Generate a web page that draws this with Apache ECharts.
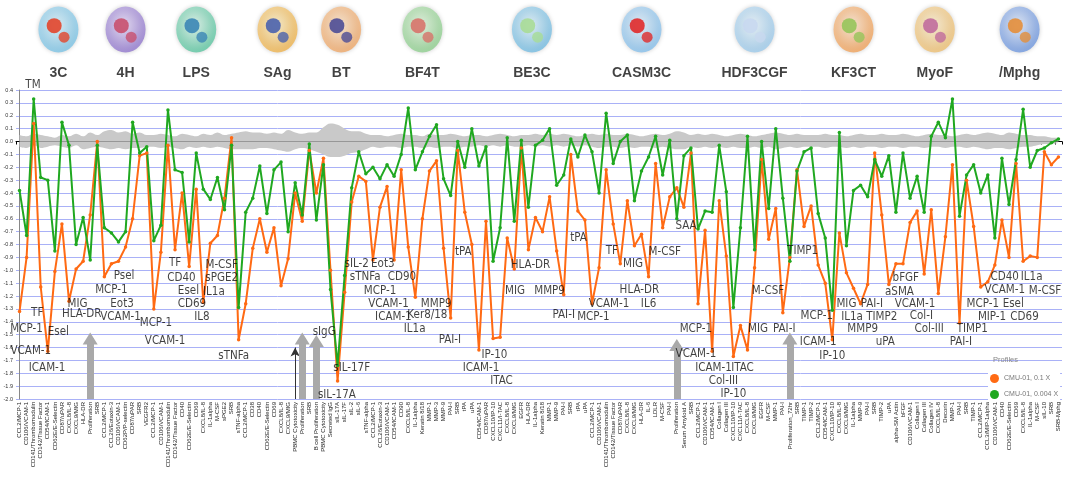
<!DOCTYPE html>
<html><head><meta charset="utf-8">
<script src="https://cdn.jsdelivr.net/npm/echarts@6/dist/echarts.min.js"></script>
<style>html,body{margin:0;padding:0;background:#fff}#c{width:1065px;height:500px}</style>
</head><body><div id="c"></div>
<script>
const systems = ['3C','4H','LPS','SAg','BT','BF4T','BE3C','CASM3C','HDF3CGF','KF3CT','MyoF','/Mphg'];
const systemSizes = [12,7,13,10,8,15,16,15,17,11,12,12];

const categories = [
 'CCL2/MCP-1','CD106/VCAM-1','CD141/Thrombomodulin','CD142/Tissue Factor','CD54/ICAM-1','CD62E/E-Selectin','CD87/uPAR','CXCL8/IL-8','CXCL9/MIG','HLA-DR','Proliferation','SRB',
 'CCL2/MCP-1','CCL26/Eotaxin-3','CD106/VCAM-1','CD62P/P-selectin','CD87/uPAR','SRB','VEGFR2',
 'CCL2/MCP-1','CD106/VCAM-1','CD141/Thrombomodulin','CD142/Tissue Factor','CD40','CD62E/E-Selectin','CD69','CXCL8/IL-8','IL-1alpha','M-CSF','sPGE2','SRB','sTNF-alpha',
 'CCL2/MCP-1','CD38','CD40','CD62E/E-Selectin','CD69','CXCL8/IL-8','CXCL9/MIG','PBMC Cytotoxicity','Proliferation','SRB',
 'B cell Proliferation','PBMC Cytotoxicity','Secreted IgG','sIL-17A','sIL-17F','sIL-2','sIL-6','sTNF-alpha',
 'CCL2/MCP-1','CCL26/Eotaxin-3','CD106/VCAM-1','CD54/ICAM-1','CD90','CXCL8/IL-8','IL-1alpha','Keratin 8/18','MMP-1','MMP-3','MMP-9','PAI-I','SRB','tPA','uPA',
 'CD54/ICAM-1','CD87/uPAR','CXCL10/IP-10','CXCL11/I-TAC','CXCL8/IL-8','CXCL9/MIG','EGFR','HLA-DR','IL-1alpha','Keratin 8/18','MMP-1','MMP-9','PAI-I','SRB','tPA','uPA',
 'CCL2/MCP-1','CD106/VCAM-1','CD141/Thrombomodulin','CD142/Tissue Factor','CD87/uPAR','CXCL8/IL-8','CXCL9/MIG','HLA-DR','IL-6','LDLR','M-CSF','PAI-I','Proliferation','Serum Amyloid A','SRB',
 'CCL2/MCP-1','CD106/VCAM-1','CD54/ICAM-1','Collagen I','Collagen III','CXCL10/IP-10','CXCL11/I-TAC','CXCL8/IL-8','CXCL9/MIG','EGFR','M-CSF','MMP-1','PAI-I','Proliferation_72hr','SRB','TIMP-1','TIMP-2',
 'CCL2/MCP-1','CD54/ICAM-1','CXCL10/IP-10','CXCL8/IL-8','CXCL9/MIG','IL-1alpha','MMP-9','PAI-I','SRB','TIMP-2','uPA',
 'alpha-SM Actin','bFGF','CD106/VCAM-1','Collagen I','Collagen III','Collagen IV','CXCL8/IL-8','Decorin','MMP-1','PAI-I','SRB','TIMP-1',
 'CCL2/MCP-1','CCL3/MIP-1alpha','CD106/VCAM-1','CD40','CD62E/E-Selectin','CD69','CXCL8/IL-8','IL-1alpha','M-CSF','sIL-10','SRB','SRB-Mphg'
];

// CMU-01, 0.1 X
const orangeValues = [
 -1.32,-0.90,0.14,-1.13,-1.63,-1.01,-0.64,-1.24,-0.99,-0.93,-0.57,0.00,
 -1.05,-0.95,-0.93,-0.82,-0.60,-0.11,-0.09,
 -1.30,-0.86,-0.03,-0.84,-0.40,-0.97,-0.37,-1.25,-0.79,-0.73,-0.44,0.03,-1.54,
 -1.26,-0.83,-0.60,-0.86,-0.67,-1.12,-0.91,-0.40,-0.62,-0.07,
 -0.40,-0.13,-1.00,-1.86,-1.17,-0.47,-0.27,-0.31,
 -0.92,-0.51,-0.35,-0.92,-0.22,-0.82,-1.21,-0.60,-0.23,-0.15,-0.83,-1.37,-0.07,-0.55,-0.80,
 -1.62,-0.62,-1.53,-1.52,-0.75,-0.99,-0.05,-0.84,-0.59,-0.70,-0.43,-0.85,-1.19,-0.10,-0.54,-0.61,
 -1.26,-0.98,-0.22,-0.64,-0.95,-0.46,-0.81,-0.72,-1.05,-0.17,-0.67,-0.43,-0.36,-0.51,-0.09,
 -1.26,-0.69,-1.63,-0.46,-0.89,-1.67,-1.43,-1.62,-0.98,-0.14,-0.76,-0.52,-1.33,-0.90,-0.22,-0.66,-0.50,
 -0.96,-1.10,-1.54,-0.71,-1.02,-1.14,-1.26,-1.11,-0.09,-0.57,-1.11,
 -0.95,-0.95,-0.63,-0.54,-1.03,-0.53,-1.18,-0.74,-0.18,-1.41,-0.30,-0.66,
 -1.13,-1.09,-0.96,-0.61,-0.90,-0.17,-0.93,-0.89,-0.90,-0.08,-0.18,-0.12
];

// CMU-01, 0.004 X
const greenValues = [
 -0.38,-0.73,0.33,-0.28,-0.30,-0.85,0.15,-0.03,-0.80,-0.59,-0.92,-0.03,
 -0.67,-0.71,-0.78,-0.70,0.15,-0.09,-0.04,
 -0.77,-0.65,0.245,-0.22,-0.24,-0.78,-0.09,-0.37,-0.45,-0.28,-0.53,-0.03,-1.29,
 -0.55,-0.44,-0.19,-0.56,-0.22,-0.16,-0.70,-0.32,-0.57,-0.02,
 -0.61,-0.18,-1.15,-1.74,-1.04,-0.36,-0.08,-0.25,
 -0.20,-0.29,-0.18,-0.27,-0.10,0.26,-0.22,-0.08,0.04,0.13,-0.29,-0.42,0.00,-0.20,0.10,
 -0.19,-0.04,-0.93,-0.67,0.03,-0.62,0.01,-0.51,-0.03,0.01,0.10,-0.34,-0.26,0.02,-0.12,0.05,
 -0.08,-0.40,0.22,-0.17,0.00,0.05,-0.46,-0.23,-0.12,0.04,-0.26,0.01,-0.60,-0.11,-0.05,
 -0.68,-0.54,-0.55,-0.03,-0.39,-1.29,-0.67,0.04,-0.84,0.00,-0.52,0.10,-0.44,-0.93,-0.23,-0.08,-0.05,
 -0.56,-0.75,-1.31,0.07,-0.81,-0.38,-0.34,-0.43,-0.14,-0.27,-0.11,
 -0.55,-0.09,-0.44,-0.27,-0.55,0.04,0.15,0.03,0.33,-0.58,-0.26,-0.18,
 -0.40,-0.26,-0.75,-0.13,-0.49,-0.14,0.25,-0.20,-0.07,-0.05,-0.01,0.02
];

// significance envelope (grey band)
const bandUpper = [
 0.05,0.04,0.06,0.05,0.04,0.03,0.05,0.04,0.06,0.04,0.07,0.05,
 0.08,0.09,0.07,0.08,0.06,0.07,0.05,
 0.05,0.06,0.05,0.04,0.06,0.05,0.04,0.06,0.05,0.07,0.05,0.06,0.07,
 0.08,0.07,0.07,0.06,0.07,0.06,0.09,0.07,0.06,0.07,
 0.07,0.11,0.14,0.13,0.10,0.08,0.08,0.06,
 0.05,0.05,0.04,0.05,0.06,0.05,0.05,0.04,0.06,0.05,0.05,0.06,0.05,0.04,0.05,
 0.05,0.04,0.05,0.06,0.05,0.04,0.05,0.05,0.06,0.05,0.06,0.05,0.06,0.05,0.04,0.05,
 0.06,0.05,0.06,0.05,0.05,0.06,0.05,0.04,0.05,0.06,0.05,0.06,0.08,0.07,0.05,
 0.06,0.05,0.06,0.05,0.04,0.05,0.06,0.05,0.04,0.05,0.06,0.07,0.06,0.05,0.06,0.05,0.05,
 0.05,0.06,0.05,0.05,0.04,0.05,0.06,0.05,0.05,0.06,0.05,
 0.05,0.06,0.05,0.04,0.05,0.06,0.05,0.05,0.04,0.05,0.06,0.05,
 0.06,0.07,0.06,0.05,0.07,0.06,0.05,0.05,0.04,0.04,0.03,0.03
];
const bandLower = [
 -0.04,-0.05,-0.03,-0.05,-0.04,-0.03,-0.04,-0.05,-0.03,-0.06,-0.05,-0.04,
 -0.05,-0.06,-0.05,-0.06,-0.05,-0.05,-0.04,
 -0.04,-0.05,-0.04,-0.05,-0.06,-0.04,-0.05,-0.04,-0.05,-0.04,-0.05,-0.06,-0.06,
 -0.06,-0.06,-0.05,-0.05,-0.06,-0.07,-0.08,-0.06,-0.05,-0.06,
 -0.08,-0.10,-0.12,-0.12,-0.11,-0.09,-0.08,-0.06,
 -0.04,-0.05,-0.04,-0.04,-0.05,-0.04,-0.04,-0.05,-0.04,-0.05,-0.04,-0.04,-0.05,-0.04,-0.04,
 -0.03,-0.04,-0.03,-0.04,-0.03,-0.04,-0.04,-0.03,-0.04,-0.03,-0.04,-0.03,-0.04,-0.03,-0.04,-0.03,
 -0.04,-0.05,-0.04,-0.04,-0.05,-0.04,-0.05,-0.04,-0.04,-0.05,-0.04,-0.05,-0.06,-0.06,-0.04,
 -0.05,-0.04,-0.05,-0.04,-0.05,-0.04,-0.05,-0.05,-0.04,-0.05,-0.04,-0.06,-0.05,-0.04,-0.05,-0.04,-0.04,
 -0.04,-0.05,-0.04,-0.04,-0.05,-0.04,-0.05,-0.04,-0.04,-0.05,-0.04,
 -0.04,-0.05,-0.04,-0.04,-0.05,-0.04,-0.04,-0.05,-0.04,-0.04,-0.05,-0.04,
 -0.05,-0.06,-0.05,-0.05,-0.06,-0.05,-0.04,-0.04,-0.03,-0.02,-0.02,-0.01
];

// readout annotations: [text, category position, log ratio]
const annotations = [
 ['TM',1.9,0.44],['TF',2.5,-1.33],['MCP-1',1.0,-1.46],['Esel',5.5,-1.48],['VCAM-1',1.6,-1.63],['ICAM-1',3.9,-1.76],['MIG',8.2,-1.26],['HLA-DR',8.8,-1.34],
 ['Psel',14.8,-1.045],['MCP-1',13.0,-1.15],['Eot3',14.5,-1.26],['VCAM-1',14.3,-1.36],
 ['MCP-1',19.3,-1.41],['VCAM-1',20.6,-1.55],['TF',22.0,-0.94],['CD40',22.9,-1.06],['Esel',23.9,-1.16],['CD69',24.4,-1.26],['IL8',25.8,-1.36],['IL1a',27.5,-1.17],['M-CSF',28.6,-0.96],['sPGE2',28.6,-1.06],['sTNFa',30.3,-1.67],
 ['sIgG',43.1,-1.48],['sIL-17F',47.0,-1.76],['sIL-17A',44.9,-1.97],['sIL-2',47.7,-0.95],['sTNFa',48.9,-1.05],
 ['Eot3',51.4,-0.95],['MCP-1',51.0,-1.16],['VCAM-1',52.2,-1.26],['ICAM-1',52.9,-1.36],['CD90',54.1,-1.05],['IL1a',55.9,-1.46],['Ker8/18',57.7,-1.35],['MMP9',58.95,-1.26],['PAI-I',60.9,-1.54],
 ['tPA',62.8,-0.855],['ICAM-1',65.3,-1.76],['IP-10',67.2,-1.66],['ITAC',68.2,-1.86],['MIG',70.1,-1.16],['HLA-DR',72.3,-0.96],['MMP9',75.0,-1.16],['PAI-I',77.0,-1.35],['tPA',79.1,-0.75],
 ['MCP-1',81.2,-1.36],['VCAM-1',83.4,-1.26],['TF',83.8,-0.85],['MIG',86.8,-0.95],['HLA-DR',87.7,-1.15],['IL6',89.0,-1.26],['M-CSF',91.3,-0.855],['SAA',94.3,-0.66],
 ['MCP-1',95.7,-1.46],['VCAM-1',95.7,-1.65],['ICAM-1',98.2,-1.76],['Col-III',99.6,-1.86],['IP-10',101.0,-1.96],['ITAC',102.3,-1.756],['MIG',104.5,-1.456],['M-CSF',105.9,-1.16],['PAI-I',108.2,-1.46],['TIMP1',110.8,-0.85],
 ['MCP-1',112.8,-1.353],['ICAM-1',113.0,-1.554],['IP-10',115.0,-1.67],['MIG',117.0,-1.264],['IL1a',117.8,-1.36],['MMP9',119.3,-1.46],['PAI-I',120.6,-1.264],['TIMP2',122.0,-1.36],['uPA',122.5,-1.56],
 ['aSMA',124.5,-1.166],['bFGF',125.4,-1.057],['VCAM-1',126.7,-1.264],['Col-I',127.6,-1.353],['Col-III',128.7,-1.46],['TIMP1',134.8,-1.46],['PAI-I',133.2,-1.554],
 ['CD40',139.4,-1.05],['VCAM-1',139.4,-1.153],['MCP-1',136.3,-1.264],['MIP-1',137.6,-1.36],['Esel',140.6,-1.264],['CD69',142.2,-1.36],['IL1a',143.2,-1.05],['M-CSF',145.1,-1.16]
];

// cytotoxicity / antiproliferative flags: [category index, arrow tip, kind]
const arrows = [[10,-1.53,'grey'],[39,-1.60,'black'],[40,-1.53,'grey'],[42,-1.55,'grey'],[93,-1.58,'grey'],[109,-1.53,'grey']];

const seriesNames = ['CMU-01, 0.1 X','CMU-01, 0.004 X'];

// ---- styling / derived layout ----
const iconColors = [
 ['#d9f1fb','#7cc4e6','#e2452b'],['#e6dbf7','#9278cf','#c8506e'],['#dcf5ea','#5cc7a2','#3b86b5'],
 ['#fdf0c8','#f0b44e','#4a62ad'],['#fde6cc','#f0a868','#4c4c96'],['#e2f5de','#8fd08f','#d7736a'],
 ['#e0f2fb','#74bde3','#a8dc96'],['#e3f1fc','#86c0ec','#e02a2a'],['#e8f4fc','#9dcbec','#c8d8ef'],
 ['#fde6d0','#f2a35b','#96c45a'],['#fcefd2','#efc072','#c06c9c'],['#dfe9fb','#6f98e0','#e48e3a']
];
const starts = [];
let acc = 0;
systemSizes.forEach(n => { starts.push(acc); acc += n; });
const centers = starts.map((s,i) => s + (systemSizes[i]-1)/2);
const boundaries = starts.slice(1).map(s => s - 0.5);

const narrow = "'Liberation Sans Narrow','Arial Narrow','DejaVu Sans Condensed',sans-serif";
const sans = "'Liberation Sans',Arial,sans-serif";

const markData = [];
boundaries.forEach(b => markData.push([
  {coord:[b,-2.0], symbol:'none', lineStyle:{color:'#7878ff', width:1, type:'solid'}},
  {coord:[b,1.1], symbol:'none'}
]));
arrows.forEach(a => {
  const grey = a[2] === 'grey';
  markData.push([
    {coord:[a[0],-2.0], symbol:'none', lineStyle: grey ? {color:'#a9a9a9', width:7, type:'solid'} : {color:'#333', width:1, type:'solid'}},
    {coord:[a[0],a[1]], symbol: grey ? 'triangle' : 'arrow', symbolSize: grey ? [15,12] : [7,9],
     itemStyle:{color: grey ? '#a9a9a9' : '#333'}}
  ]);
});

const chart = echarts.init(document.getElementById('c'));
chart.setOption({
  animation:false,
  backgroundColor:'#fff',
  grid:{left:16, right:3, top:90, bottom:101, containLabel:false, outerBoundsMode:'none'},
  legend:{
    data: seriesNames, orient:'vertical', left:988, top:372, itemGap:7,
    icon:'circle', itemWidth:9, itemHeight:9,
    textStyle:{fontSize:7, color:'#777', fontFamily:sans},
    backgroundColor:'#fff', padding:[2,2,2,2]
  },
  title:{text:'Profiles', left:993, top:356, padding:0,
    textStyle:{fontSize:7.5, color:'#888', fontWeight:'normal', fontFamily:sans}},
  xAxis:[
    {type:'category', data:categories, boundaryGap:true,
     axisLine:{lineStyle:{color:'#000'}},
     axisTick:{show:true, interval:0, length:3, lineStyle:{color:'#000'}},
     axisLabel:{interval:0, rotate:90, fontSize:6, color:'#222', margin:3, fontFamily:sans},
     splitLine:{show:false}},
    {type:'value', min:-0.5, max:147.5, show:false}
  ],
  yAxis:{type:'value', min:-2.0, max:0.4, interval:0.1,
    name:'Log Ratio', nameLocation:'middle', nameGap:11, nameTextStyle:{fontSize:5.5, color:'#333', fontFamily:sans},
    axisLine:{show:true, lineStyle:{color:'#888'}},
    axisTick:{show:false},
    axisLabel:{fontSize:5.5, color:'#333', margin:3, fontFamily:sans,
      formatter: v => (Math.abs(v) < 1e-9 ? 0 : v).toFixed(1)},
    splitLine:{show:true, lineStyle:{color:'#a9b1f7', width:1}}
  },
  series:[
    {name:'bandU', type:'line', data:bandUpper, symbol:'none', smooth:0.4, silent:true,
     lineStyle:{width:0}, areaStyle:{color:'#c9c9c9', opacity:1}, z:1},
    {name:'bandL', type:'line', data:bandLower, symbol:'none', smooth:0.4, silent:true,
     lineStyle:{width:0}, areaStyle:{color:'#c9c9c9', opacity:1}, z:1},
    {name:seriesNames[0], type:'line', data:orangeValues, color:'#ff6a13',
     symbol:'circle', symbolSize:3.5, lineStyle:{width:2}, z:5},
    {name:seriesNames[1], type:'line', data:greenValues, color:'#20a820',
     symbol:'circle', symbolSize:3.5, lineStyle:{width:2}, z:5},
    {name:'marks', type:'scatter', xAxisIndex:1, data:[], clip:false, silent:true, z:3,
     markLine:{silent:true, animation:false, label:{show:false}, symbol:['none','none'], data:markData}},
    {name:'iconBg', type:'scatter', xAxisIndex:1, clip:false, silent:true, z:6,
     symbol:'circle', symbolSize:[40,46],
     data: centers.map((c,i) => ({value:[c,0.87], itemStyle:{
       color:{type:'radial', x:0.45, y:0.4, r:0.6, colorStops:[{offset:0,color:iconColors[i][0]},{offset:1,color:iconColors[i][1]}]},
       shadowColor:'rgba(0,0,0,0.25)', shadowBlur:4}}))},
    {name:'iconCell', type:'scatter', xAxisIndex:1, clip:false, silent:true, z:7,
     symbol:'circle', symbolSize:15,
     data: centers.map((c,i) => ({value:[c-0.6,0.90], itemStyle:{color:iconColors[i][2], opacity:0.9}}))},
    {name:'iconCell2', type:'scatter', xAxisIndex:1, clip:false, silent:true, z:7,
     symbol:'circle', symbolSize:11,
     data: centers.map((c,i) => ({value:[c+0.8,0.81], itemStyle:{color:iconColors[i][2], opacity:0.8}}))},
    {name:'systems', type:'scatter', xAxisIndex:1, clip:false, silent:true, z:8, symbolSize:0,
     data: centers.map((c,i) => ({value:[c,0.53], name:systems[i]})),
     label:{show:true, position:'inside', formatter:'{b}', fontSize:14, fontWeight:'bold', color:'#111', fontFamily:sans}},
    {name:'annot', type:'scatter', xAxisIndex:1, clip:false, silent:true, z:8, symbolSize:0,
     data: annotations.map(a => ({value:[a[1],a[2]], name:a[0]})),
     label:{show:true, position:'inside', formatter:'{b}', fontSize:11.5, color:'#111', fontFamily:narrow}}
  ]
});
</script>
</body></html>
